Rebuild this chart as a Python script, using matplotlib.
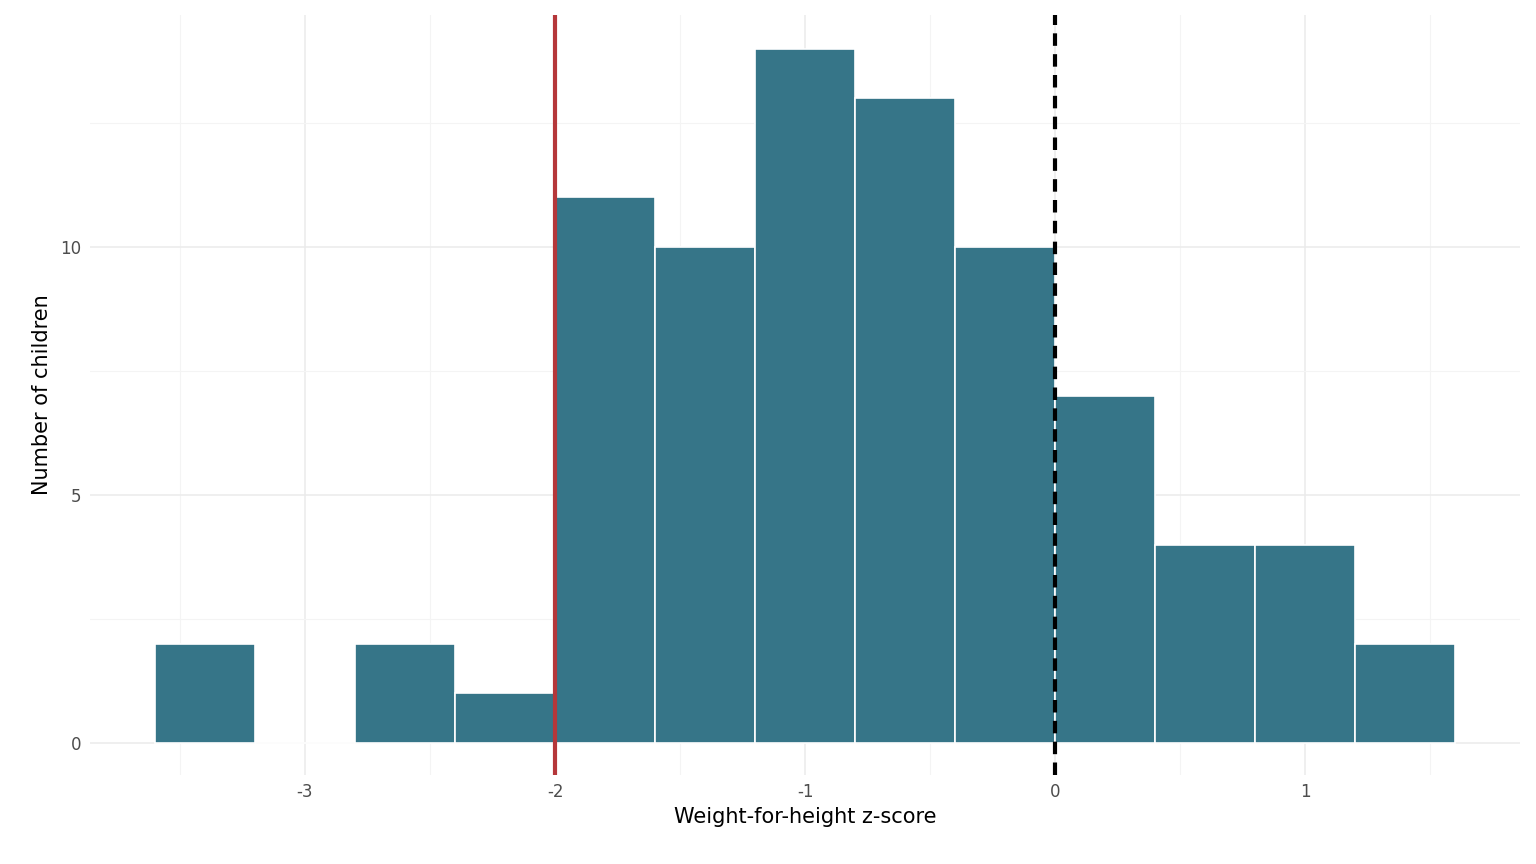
import matplotlib.pyplot as plt
import numpy as np

# histogram bins (width 0.4) and counts
bin_left = [-3.6, -3.2, -2.8, -2.4, -2.0, -1.6, -1.2, -0.8, -0.4, 0.0, 0.4, 0.8, 1.2]
counts = [2, 0, 2, 1, 11, 10, 14, 13, 10, 7, 4, 4, 2]
bin_width = 0.4
x_ticks = [-3, -2, -1, 0, 1]
y_ticks = [0, 5, 10]

fig = plt.figure(figsize=(15.36, 8.64), dpi=100)
ax = fig.add_axes([90 / 1536, 89 / 864, 1430 / 1536, 760 / 864])

ax.bar(bin_left, counts, width=bin_width, align='edge', color='#367588',
       edgecolor='white', linewidth=1.2, zorder=2)

ax.axvline(-2, color='#B5373A', linewidth=3, zorder=3)
ax.axvline(0, color='black', linewidth=3, linestyle=(0, (3, 2)), zorder=3)

ax.set_xlim(-3.86, 1.86)
ax.set_ylim(-0.645, 14.68)
ax.set_xticks(x_ticks)
ax.set_xticklabels([str(v) for v in x_ticks])
ax.set_yticks(y_ticks)
ax.set_xticks(np.arange(-3.5, 1.6, 1.0), minor=True)
ax.set_yticks([2.5, 7.5, 12.5], minor=True)

ax.grid(which='major', color='#EBEBEB', linewidth=1.1, zorder=0)
ax.grid(which='minor', color='#F4F4F4', linewidth=0.8, zorder=0)
ax.set_axisbelow(True)
for s in ax.spines.values():
    s.set_visible(False)
ax.tick_params(which='both', length=0, labelsize=12, labelcolor='#4D4D4D', pad=6)

ax.set_xlabel('Weight-for-height z-score', fontsize=15, labelpad=4)
ax.set_ylabel('Number of children', fontsize=15, labelpad=6)

fig.savefig('out.png', dpi=100, facecolor='white')
